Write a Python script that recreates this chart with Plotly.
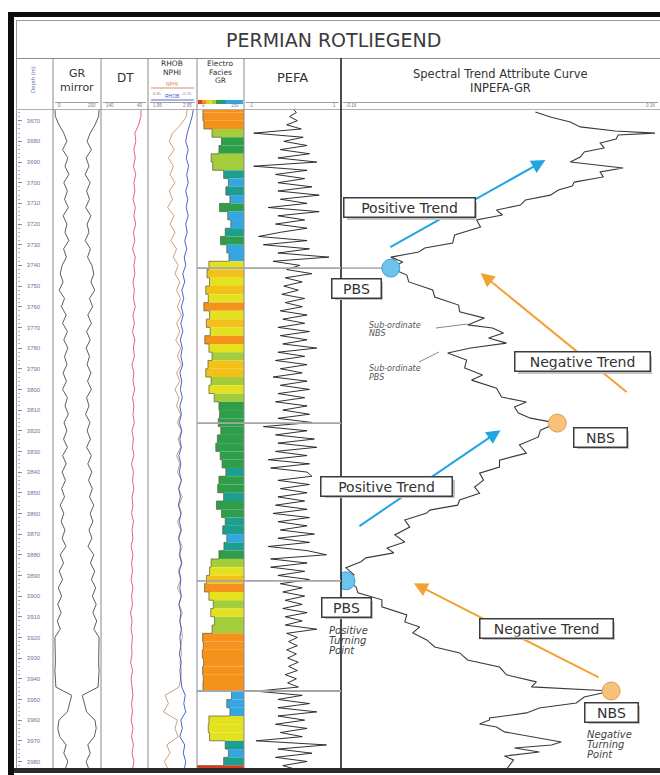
import numpy as np
import plotly.graph_objects as go

W, H = 660, 775


def px(x):
    return x / W


def py(y):
    return 1 - y / H


# ---------------- log data ----------------
log_depth = np.arange(3664, 3985, 4)          # 4 m sample grid, 81 samples

gr = [8, 10, 25, 45, 58, 40, 62, 50, 66, 45,
      60, 48, 64, 42, 58, 50, 66, 44, 56, 38,
      30, 42, 26, 48, 35, 55, 40, 60, 45, 62,
      48, 58, 42, 56, 40, 60, 50, 64, 46, 58,
      44, 60, 40, 55, 38, 52, 36, 48, 30, 45,
      34, 50, 38, 54, 30, 44, 26, 40, 22, 36,
      20, 34, 18, 30, 8, 9, 8, 10, 8, 9,
      12, 78, 70, 60, 25, 20, 28, 55, 45, 62,
      50]

dt = [55, 55, 60, 68, 66, 70, 67, 71, 66, 70,
      68, 72, 67, 70, 66, 71, 68, 73, 67, 70,
      68, 72, 69, 71, 67, 72, 69, 73, 68, 71,
      69, 74, 70, 72, 68, 73, 70, 72, 69, 74,
      71, 73, 70, 75, 71, 73, 70, 74, 72, 75,
      71, 74, 72, 76, 72, 75, 73, 76, 72, 75,
      73, 77, 74, 76, 73, 75, 74, 77, 73, 76,
      74, 72, 75, 73, 76, 72, 75, 71, 74, 70,
      73]

nphi = [-0.03, -0.02, 0.05, 0.15, 0.19, 0.13, 0.20, 0.14, 0.18, 0.12,
        0.19, 0.15, 0.21, 0.13, 0.18, 0.12, 0.17, 0.10, 0.14, 0.08,
        0.12, 0.06, 0.10, 0.05, 0.09, 0.04, 0.10, 0.06, 0.11, 0.05,
        0.09, 0.04, 0.10, 0.06, 0.12, 0.07, 0.10, 0.05, 0.09, 0.04,
        0.08, 0.05, 0.10, 0.06, 0.09, 0.04, 0.08, 0.03, 0.07, 0.04,
        0.09, 0.05, 0.08, 0.03, 0.07, 0.04, 0.08, 0.05, 0.09, 0.04,
        0.07, 0.03, 0.06, 0.04, 0.03, 0.05, 0.04, 0.06, 0.04, 0.05,
        0.07, 0.24, 0.20, 0.26, 0.09, 0.12, 0.08, 0.22, 0.18, 0.25,
        0.20]

rhob = [2.88, 2.85, 2.80, 2.75, 2.72, 2.77, 2.73, 2.78, 2.74, 2.77,
        2.72, 2.76, 2.73, 2.77, 2.72, 2.75, 2.70, 2.74, 2.69, 2.72,
        2.66, 2.70, 2.64, 2.68, 2.63, 2.67, 2.62, 2.66, 2.61, 2.65,
        2.62, 2.66, 2.60, 2.64, 2.61, 2.65, 2.60, 2.63, 2.59, 2.64,
        2.60, 2.63, 2.58, 2.62, 2.59, 2.63, 2.58, 2.61, 2.57, 2.62,
        2.59, 2.63, 2.58, 2.61, 2.60, 2.64, 2.59, 2.62, 2.60, 2.63,
        2.58, 2.62, 2.60, 2.63, 2.60, 2.62, 2.59, 2.63, 2.60, 2.62,
        2.64, 2.71, 2.68, 2.72, 2.62, 2.65, 2.60, 2.70, 2.67, 2.72,
        2.69]

# electrofacies GR (drives both the fill edge and the facies colour)
ef_gr = [19, 19, 22, 48, 78, 70, 45, 50, 85, 100,
         92, 105, 72, 98, 108, 90, 75, 95, 102, 38,
         32, 40, 28, 36, 22, 40, 30, 42, 25, 38,
         48, 35, 28, 45, 38, 55, 70, 72, 68, 76,
         65, 60, 74, 80, 92, 70, 66, 85, 62, 78,
         90, 82, 95, 86, 70, 45, 40, 30, 24, 38,
         52, 44, 56, 48, 18, 20, 17, 21, 18, 20,
         19, 110, 95, 105, 38, 36, 40, 90, 100, 85,
         0]

pefa_depth = np.arange(3664, 3985, 2)         # 2 m sample grid, 161 samples
pefa = [0.0, 0.08, -0.06, 0.1, -0.12, 0.18, -0.8, 0.22, -0.18, 0.3,
        -0.25, 0.35, -0.3, 0.5, -0.8, 0.3, -0.35, 0.25, -0.3, 0.4,
        -0.3, 0.55, -0.25, 0.3, -0.5, 0.55, -0.3, 0.25, -0.35, 0.3,
        -0.25, -0.7, 0.3, -0.6, 0.35, -0.3, 0.75, -0.4, 0.15, -0.12,
        0.4, -0.15, 0.2, -0.18, 0.12, -0.22, 0.25, -0.15, 0.2, -0.25,
        0.3, -0.2, 0.25, -0.3, 0.35, -0.25, 0.3, -0.2, 0.5, -0.3,
        0.25, -0.35, 0.3, -0.25, 0.2, -0.4, 0.3, -0.25, 0.35, -0.3,
        0.25, -0.35, 0.3, -0.2, 0.35, -0.3, 0.4, -0.6, 0.3, -0.35,
        0.45, -0.3, 0.5, -0.35, 0.3, -0.5, 0.35, -0.45, 0.3, 0.4,
        -0.3, 0.35, -0.25, 0.3, -0.3, 0.25, -0.35, 0.3, -0.4, 0.35,
        -0.3, 0.3, -0.25, 0.45, -0.3, 0.35, -0.5, 0.3, 0.7, -0.45,
        0.3, -0.45, 0.25, -0.3, 0.35, -0.25, 0.2, -0.2, 0.25, -0.15,
        0.2, -0.2, 0.3, -0.15, 0.2, -0.15, 0.5, -0.12, 0.1, -0.08,
        0.1, -0.12, 0.08, -0.1, 0.12, -0.08, 0.1, -0.15, 0.08, -0.1,
        0.12, -0.75, 0.2, -0.3, 0.35, -0.3, 0.5, -0.3, 0.25, -0.35,
        0.3, -0.25, 0.2, -0.75, 0.7, -0.3, 0.4, -0.35, 0.3, -0.2,
        0.1]

inpefa_depth = [3665.8, 3668.2, 3670.6, 3673.0, 3675.0, 3676.0, 3676.9, 3678.9, 3680.8, 3683.2,
                3685.1, 3687.6, 3690.0, 3691.9, 3692.9, 3694.8, 3697.2, 3699.7, 3701.6, 3703.5,
                3706.0, 3708.4, 3710.8, 3713.2, 3715.6, 3718.0, 3721.4, 3725.3, 3729.2, 3731.6,
                3733.5, 3736.0, 3738.4, 3741.3, 3744.7, 3748.0, 3751.9, 3755.3, 3759.2, 3762.5,
                3765.5, 3768.8, 3770.3, 3772.7, 3775.1, 3777.6, 3780.0, 3782.4, 3785.8, 3789.6,
                3793.0, 3795.5, 3799.4, 3803.7, 3806.1, 3808.5, 3811.4, 3813.9, 3816.3, 3819.7,
                3823.0, 3826.9, 3830.8, 3834.2, 3837.6, 3840.5, 3843.9, 3847.3, 3850.2, 3853.5,
                3856.0, 3858.4, 3859.8, 3863.2, 3866.6, 3870.4, 3873.8, 3876.7, 3879.1, 3881.5,
                3883.4, 3886.3, 3889.7, 3892.6, 3895.5, 3898.4, 3901.8, 3905.2, 3909.1, 3912.5,
                3914.9, 3917.8, 3921.2, 3924.6, 3927.5, 3930.9, 3934.3, 3938.1, 3941.5, 3943.9,
                3945.4, 3945.9, 3948.8, 3951.7, 3954.1, 3956.5, 3959.0, 3959.9, 3961.9, 3963.3,
                3965.7, 3968.2, 3970.6, 3972.0, 3973.5, 3975.4, 3977.4, 3979.3, 3983.2]
inpefa = [0.035, 0.050, 0.070, 0.080, 0.115, 0.155, 0.118, 0.116, 0.100, 0.104,
          0.084, 0.080, 0.070, 0.104, 0.123, 0.100, 0.103, 0.074, 0.072, 0.058,
          0.050, 0.025, 0.020, -0.004, 0.002, -0.024, -0.020, -0.046, -0.048, -0.076,
          -0.082, -0.110, -0.098, -0.110, -0.094, -0.092, -0.068, -0.066, -0.042, -0.041,
          -0.016, -0.033, -0.008, 0.003, -0.012, 0.006, -0.030, -0.053, -0.034, -0.036,
          -0.018, -0.029, -0.004, 0.001, 0.026, 0.014, 0.018, 0.030, 0.057, 0.040,
          0.038, 0.019, 0.026, -0.001, -0.001, -0.021, -0.017, -0.026, -0.021, -0.041,
          -0.043, -0.071, -0.074, -0.096, -0.091, -0.106, -0.096, -0.114, -0.107, -0.135,
          -0.140, -0.155, -0.147, -0.155, -0.145, -0.143, -0.119, -0.119, -0.094, -0.096,
          -0.081, -0.088, -0.074, -0.066, -0.041, -0.033, -0.001, 0.006, 0.036, 0.031,
          0.085, 0.111, 0.084, 0.076, 0.039, 0.026, -0.011, -0.011, -0.021, -0.004,
          0.004, 0.033, 0.061, 0.051, 0.014, 0.039, 0.004, 0.013, 0.007]

# bounding surfaces picked on the INPEFA curve
turn_depth = [3741.3, 3816.3, 3892.6, 3945.9]
turn_value = [-0.110, 0.057, -0.155, 0.111]
turn_kind = ["PBS", "NBS", "PBS", "NBS"]

# trend arrows (from -> to, in depth / INPEFA units)
trend_kind = ["positive", "negative", "positive", "negative"]
trend_from_depth = [3731.6, 3801.8, 3866.6, 3939.7]
trend_from_value = [-0.112, 0.128, -0.143, 0.100]
trend_to_depth = [3689.0, 3743.7, 3819.7, 3893.8]
trend_to_value = [0.045, -0.020, 0.000, -0.087]

depth_ticks = list(range(3670, 3981, 10))

assert len(gr) == len(dt) == len(nphi) == len(rhob) == len(ef_gr) == len(log_depth)
assert len(pefa) == len(pefa_depth)
assert len(inpefa) == len(inpefa_depth)

# ---------------- styling ----------------
GR_MAX = 200
EF_MAX = 150
TOP_PX, BOT_PX = 110, 768
DEPTH_RANGE = [3983.16, 3664.82]

tracks = {  # axis: (left px, right px, range)
    "xaxis2": (53, 101, [0, GR_MAX]),
    "xaxis3": (101, 148, [140, 40]),
    "xaxis4": (148, 197, [0.45, -0.15]),
    "xaxis5": (148, 197, [1.95, 2.95]),
    "xaxis6": (197, 244, [0, EF_MAX]),
    "xaxis7": (244, 341, [-1, 1]),
    "xaxis8": (341, 660, [-0.16, 0.16]),
}

facies_scale = [
    [0.00, "#e2391f"], [0.08, "#e2391f"],
    [0.08, "#f5921c"], [0.17, "#f5921c"],
    [0.17, "#f2c21a"], [0.235, "#f2c21a"],
    [0.235, "#e4e21e"], [0.30, "#e4e21e"],
    [0.30, "#a3cd3a"], [0.40, "#a3cd3a"],
    [0.40, "#2f9e4a"], [0.535, "#2f9e4a"],
    [0.535, "#1c9f8e"], [0.63, "#1c9f8e"],
    [0.63, "#34a6e2"], [1.00, "#34a6e2"],
]
turn_fill = {"PBS": "#6cc4ee", "NBS": "#f8c27c"}
turn_edge = {"PBS": "#3d9fd2", "NBS": "#e19e4a"}
trend_color = {"positive": "#1fa6e0", "negative": "#f1a233"}

fig = go.Figure()

# GR and its mirror image
fig.add_trace(go.Scatter(x=gr, y=log_depth, xaxis="x2", yaxis="y", mode="lines",
                         line=dict(color="#4b4b4b", width=0.9)))
fig.add_trace(go.Scatter(x=GR_MAX - np.array(gr), y=log_depth, xaxis="x2", yaxis="y",
                         mode="lines", line=dict(color="#4b4b4b", width=0.9)))
# sonic
fig.add_trace(go.Scatter(x=dt, y=log_depth, xaxis="x3", yaxis="y", mode="lines",
                         line=dict(color="#d5425a", width=0.8)))
# neutron / density
fig.add_trace(go.Scatter(x=nphi, y=log_depth, xaxis="x4", yaxis="y", mode="lines",
                         line=dict(color="#c8956c", width=0.9)))
fig.add_trace(go.Scatter(x=rhob, y=log_depth, xaxis="x5", yaxis="y", mode="lines",
                         line=dict(color="#3b4fc6", width=0.9)))
# electrofacies fill
ef_arr = np.array(ef_gr)
fig.add_trace(go.Bar(
    y=log_depth, x=EF_MAX - ef_arr, base=ef_arr, orientation="h", width=4,
    xaxis="x6", yaxis="y",
    marker=dict(color=ef_arr, colorscale=facies_scale, cmin=0, cmax=EF_MAX,
                line=dict(width=0), showscale=True,
                colorbar=dict(orientation="h", x=px(220.5), xanchor="center",
                              y=py(101.5), yanchor="middle", len=45 / W, lenmode="fraction",
                              thickness=4, thicknessmode="pixels", showticklabels=False,
                              ticks="", outlinewidth=0, xpad=0, ypad=0)),
))
fig.add_trace(go.Scatter(x=ef_arr, y=log_depth - 2, xaxis="x6", yaxis="y", mode="lines",
                         line=dict(color="#5a5a3a", width=0.7, shape="vh")))
# PEFA
fig.add_trace(go.Scatter(x=pefa, y=pefa_depth, xaxis="x7", yaxis="y", mode="lines",
                         line=dict(color="#1b1b1b", width=0.9)))
# INPEFA
fig.add_trace(go.Scatter(x=inpefa, y=inpefa_depth, xaxis="x8", yaxis="y", mode="lines",
                         line=dict(color="#3a3a3a", width=1.1)))
# turning points
fig.add_trace(go.Scatter(
    x=turn_value, y=turn_depth, xaxis="x8", yaxis="y", mode="markers",
    marker=dict(size=18, color=[turn_fill[k] for k in turn_kind],
                line=dict(color=[turn_edge[k] for k in turn_kind], width=1)),
))

layout = dict(
    width=W, height=H, margin=dict(l=0, r=0, t=0, b=0),
    paper_bgcolor="white", plot_bgcolor="white", showlegend=False,
    yaxis=dict(domain=[py(BOT_PX), py(TOP_PX)], range=DEPTH_RANGE, anchor="free",
               position=px(17), side="left", showgrid=False, zeroline=False,
               showline=False, tickmode="array", tickvals=depth_ticks,
               ticktext=[str(d) for d in depth_ticks], ticks="inside", ticklen=4,
               tickcolor="#7b86a6", ticklabelposition="inside", ticklabelstandoff=3,
               tickfont=dict(size=6, color="#6a78a2", family="Liberation Sans"),
               minor=dict(ticks="inside", ticklen=2, tickmode="linear", tick0=3670,
                          dtick=2, tickcolor="#aab0c4"),
               fixedrange=True),
)
for name, (a, b, rng) in tracks.items():
    ax = dict(domain=[px(a), px(b)], range=rng, anchor="y", visible=False, fixedrange=True)
    if name == "xaxis5":
        ax["overlaying"] = "x4"
    layout[name] = ax

shapes = []


def hline(y, x0, x1, color="#8a8a8a", width=1):
    shapes.append(dict(type="line", xref="paper", yref="paper", x0=px(x0), x1=px(x1),
                       y0=py(y), y1=py(y), line=dict(color=color, width=width)))


def vline(x, y0, y1, color="#8a8a8a", width=1):
    shapes.append(dict(type="line", xref="paper", yref="paper", x0=px(x), x1=px(x),
                       y0=py(y0), y1=py(y1), line=dict(color=color, width=width)))


# outer frame
shapes.append(dict(type="rect", xref="paper", yref="paper", x0=px(8), x1=px(14),
                   y0=0, y1=py(12), fillcolor="#0c0c0c", line=dict(width=0)))
shapes.append(dict(type="rect", xref="paper", yref="paper", x0=px(8), x1=1,
                   y0=py(17), y1=py(12), fillcolor="#0c0c0c", line=dict(width=0)))
shapes.append(dict(type="rect", xref="paper", yref="paper", x0=px(14), x1=1,
                   y0=py(773), y1=py(768), fillcolor="#2a2a2a", line=dict(width=0)))
# inner grid
hline(20.5, 16, 660, "#9a9a9a")
vline(16.5, 20, 768, "#9a9a9a")
hline(58.5, 16, 660, "#8a8a8a")
hline(109.5, 16, 660, "#b0b0b0")
for xb in [53, 101, 148, 197, 244]:
    vline(xb, 58, 768, "#8a8a8a")
vline(341, 58, 768, "#202020", 1.6)
# scale lines under each header
for name, (a, b, rng) in tracks.items():
    if name == "xaxis5":
        continue
    hline(102.5, a + 2, b - 2, "#a0a0a0")
# NPHI / RHOB header legends
hline(88, 151, 194, "#d98a72")
hline(100, 151, 194, "#5a66cc")

# bounding-surface lines through facies and PEFA tracks
for d, v, k in zip(turn_depth, turn_value, turn_kind):
    shapes.append(dict(type="line", xref="paper", yref="y", x0=px(197), x1=px(341),
                       y0=d, y1=d, line=dict(color="#a6a6a6", width=1.8)))
    if k == "PBS":
        shapes.append(dict(type="line", xref="x8", yref="y", x0=tracks["xaxis8"][2][0],
                           x1=v, y0=d, y1=d, layer="below",
                           line=dict(color="#b4b4b4", width=1.8)))

# leader lines for the subordinate surfaces
for (x0, y0, x1, y1) in [(436, 328, 467, 324), (419, 362, 439, 352)]:
    shapes.append(dict(type="line", xref="paper", yref="paper", x0=px(x0), x1=px(x1),
                       y0=py(y0), y1=py(y1), line=dict(color="#666", width=0.8)))

layout["shapes"] = shapes

ann = []


def label(text, x, y, size, color="#333333", family="DejaVu Sans", xanchor="center",
          **kw):
    extra = kw.pop("font_extra", {})
    ann.append(dict(text=text, x=px(x), y=py(y), xref="paper", yref="paper",
                    showarrow=False, xanchor=xanchor, yanchor="middle",
                    font=dict(size=size, color=color, family=family, **extra), **kw))


# title and column headers
label("PERMIAN ROTLIEGEND", 333, 40, 19, color="#3a3a3a")
label("Depth (m)", 33, 80, 6, color="#6a78a2", family="Liberation Sans", textangle=-90)
label("GR", 77, 74, 11)
label("mirror", 77, 87.5, 11)
label("DT", 125, 78, 12)
label("RHOB", 172, 64, 7.5)
label("NPHI", 172, 72.5, 7.5)
label("NPHI", 172, 84, 5, color="#d9826a", family="Liberation Sans")
label("0.45", 151, 93, 4, color="#777", family="Liberation Sans", xanchor="left")
label("-0.15", 194, 93, 4, color="#777", family="Liberation Sans", xanchor="right")
label("RHOB", 172, 96, 5, color="#4a58c8", family="Liberation Sans")
label("Electro", 220, 63.5, 7.5)
label("Facies", 220, 72, 7.5)
label("GR", 220, 80.5, 7.5)
label("PEFA", 292, 78, 13)
label("Spectral Trend Attribute Curve", 500, 74, 11.5)
label("INPEFA-GR", 500, 88, 11.5)

# scale end labels
for name, (a, b, rng) in tracks.items():
    if name in ("xaxis4", "xaxis5"):
        continue
    label(f"{rng[0]:g}", a + 3, 106, 4.5, color="#777", family="Liberation Sans",
          xanchor="left")
    label(f"{rng[1]:g}", b - 3, 106, 4.5, color="#777", family="Liberation Sans",
          xanchor="right")
label("1.95", 151, 106, 4.5, color="#777", family="Liberation Sans", xanchor="left")
label("2.95", 194, 106, 4.5, color="#777", family="Liberation Sans", xanchor="right")

# trend arrows
for k, fd, fv, td, tv in zip(trend_kind, trend_from_depth, trend_from_value,
                             trend_to_depth, trend_to_value):
    ann.append(dict(x=tv, y=td, xref="x8", yref="y", ax=fv, ay=fd, axref="x8", ayref="y",
                    text="", showarrow=True, arrowhead=2, arrowsize=1.4, arrowwidth=2,
                    arrowcolor=trend_color[k], standoff=0, startstandoff=0))

# boxed call-outs: text, centre x, centre y, box width (px)
callouts = [
    ("Positive Trend", 409, 208, 128),
    ("PBS", 356, 288, 46),
    ("Negative Trend", 582, 362, 132),
    ("NBS", 600, 437, 50),
    ("Positive Trend", 387, 486, 128),
    ("PBS", 346, 607, 46),
    ("Negative Trend", 546, 628, 130),
    ("NBS", 611, 712, 50),
]
for text, cx, cy, bw in callouts:
    common = dict(x=px(cx), y=py(cy), xref="paper", yref="paper", xanchor="center",
                  yanchor="middle", showarrow=False, width=bw, height=16, borderpad=1)
    ann.append(dict(text=" ", bgcolor="#c2c2c2", borderwidth=0, xshift=3, yshift=-3,
                    font=dict(size=14), **common))
    ann.append(dict(text=text, bgcolor="white", bordercolor="#3c3c3c", borderwidth=1.5,
                    font=dict(size=14, color="#333333", family="DejaVu Sans"), **common))

# italic notes
italic = dict(style="italic")
for txt, y in [("Sub-ordinate", 325), ("NBS", 334)]:
    label(txt, 367, y, 8, color="#555", xanchor="left", font_extra=italic)
for txt, y in [("Sub-ordinate", 368), ("PBS", 377)]:
    label(txt, 367, y, 8, color="#555", xanchor="left", font_extra=italic)
for txt, y in [("Positive", 630), ("Turning", 640), ("Point", 650)]:
    label(txt, 327, y, 10, color="#444", xanchor="left", font_extra=italic)
for txt, y in [("Negative", 734), ("Turning", 744), ("Point", 754)]:
    label(txt, 585, y, 10, color="#444", xanchor="left", font_extra=italic)

layout["annotations"] = ann
fig.update_layout(**layout)

fig.write_html("out.html")
